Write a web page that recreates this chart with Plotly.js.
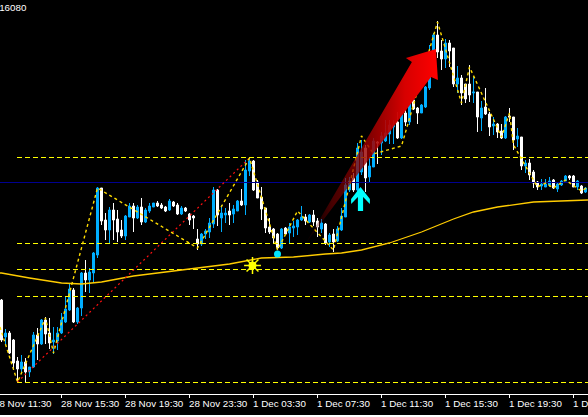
<!DOCTYPE html>
<html><head><meta charset="utf-8">
<script src="https://cdn.plot.ly/plotly-3.0.1.min.js"></script>
<style>html,body{margin:0;padding:0;background:#fff;overflow:hidden}#c{width:588px;height:415px}</style>
</head><body><div id="c"></div>
<script>
// Prices are in chart points above the bottom of the price window; bars are 15-minute bars.
const open = [94,57,61,54,33,25,32,22,27,59,50,74,61,52,53,61,72,84,104,72,86,121,114,121,139,206,174,164,184,175,164,158,177,188,176,187,172,183,187,191,189,187,184,192,189,180,186,180,178,155,150,160,162,170,204,176,179,183,180,183,193,189,223,233,212,197,186,167,165,160,146,166,161,166,167,174,177,172,179,173,165,170,152,160,153,164,177,204,216,204,222,246,217,227,252,251,253,260,267,272,256,281,272,294,286,281,287,306,342,359,343,335,351,346,310,316,310,310,301,302,276,287,280,268,270,263,256,278,277,255,257,228,231,222,212,208,207,209,214,205,209,213,218,218,207,208,202];
const high = [95,65,63,55,37,39,36,27,62,66,75,77,76,67,67,81,98,111,106,87,122,134,126,142,207,206,181,187,191,184,174,179,191,191,189,196,186,191,191,193,191,188,195,193,191,188,187,181,179,165,161,165,176,207,205,189,186,191,189,194,205,234,237,234,214,207,186,176,166,161,166,167,171,173,175,188,180,180,184,176,175,171,161,165,168,186,216,217,221,251,254,249,237,256,253,262,274,274,274,282,282,287,296,296,287,290,308,349,361,373,354,355,354,346,328,319,310,329,317,302,293,306,282,277,271,270,278,286,277,266,257,234,235,224,213,215,215,217,215,211,214,219,219,219,214,209,207];
const low = [52,49,40,24,12,22,12,17,26,34,49,50,45,40,44,60,71,83,71,70,78,102,101,111,136,169,154,151,154,152,156,154,177,162,175,169,171,181,187,187,185,182,183,187,179,179,182,169,165,144,148,155,156,166,168,162,171,169,171,183,188,179,218,203,196,174,161,160,151,144,145,159,151,157,159,173,169,171,168,157,161,149,147,142,152,163,177,202,202,202,219,202,212,227,230,239,252,250,250,255,255,268,269,284,270,281,286,304,341,336,324,326,327,307,301,289,291,292,291,262,263,279,258,259,256,255,255,272,244,247,224,221,214,206,204,204,207,207,205,202,208,213,214,207,204,200,201];
const close = [54,61,41,31,25,32,22,27,59,50,74,60,51,54,61,74,85,105,72,86,121,114,122,141,206,173,164,184,174,162,158,178,188,176,187,172,184,188,191,188,186,183,193,188,180,186,183,174,176,150,160,163,171,204,179,181,181,179,185,193,189,224,233,204,196,185,166,162,156,146,165,160,167,168,174,177,173,179,172,167,171,151,159,152,165,178,209,213,204,246,242,216,228,253,251,258,261,269,269,256,281,272,294,285,281,289,307,342,359,342,335,351,343,310,316,301,295,299,302,277,286,280,267,270,262,256,277,277,254,258,228,231,219,211,207,210,210,213,206,210,213,218,216,207,213,201,206];

const maBars = [-0.375,0,7,15,20,25,33,41,49,57,65,73,81,85,90,97,105,113,118,124,133,143,146.625];
const maValues = [121,121,116,111,110,112,118,122,126,130,136,137,140,141,144,151,162,175,182,187,192,193.5,194];

const zigzagBars = [-0.375,4,11,13,24,49,62,69,74,83,90,93,100,109,115,117,125,127,128,134,136,138,141,145,146.625];
const zigzagValues = [67,12,76,41,206,146,236,144,183,144,258,240,248,372,291,327,257,281,249,207,211,206,214,203,207];

const trendBars = [4,62];
const trendValues = [12,236];

const levelValues = [236.5,150.5,124.5,97.5,11.5];
const levelBars = [3.875,146.625];
const pivotValue = 211.5;

const bigArrowBars = [76.1,102.6,101.1,108.6,109.1,107.4,76.1];
const bigArrowValues = [151,332,336,345,314,317,151];
const upArrowBars = [89.75,92.1,92.1,90.4,90.4,89.1,89.1,87.4,87.4,89.75];
const upArrowValues = [207,195,190,197,183,183,197,190,195,207];
const dotBar = [69], dotValue = [140];
const starBar = [62.75], starValue = [128.5];

const tickBars = [15,31,47,63,79,95,111,127,143];
const tickLabels = ['28 Nov 15:30','28 Nov 19:30','28 Nov 23:30','1 Dec 03:30','1 Dec 07:30','1 Dec 11:30','1 Dec 15:30','1 Dec 19:30','1 Dec 23:30'];
const firstLabel = '28 Nov 11:30';
const priceLabel = '1.16080';

const bars = open.map((_, i) => i);
const FONT = '"Liberation Sans", Arial, sans-serif';

const traces = [];
levelValues.forEach(v => traces.push({type:'scatter',mode:'lines',x:levelBars,y:[v,v],
  line:{color:'#FFFF00',width:1,dash:'5px,3px'},hoverinfo:'skip'}));
traces.push({type:'scatter',mode:'lines',x:[-0.375,146.625],y:[pivotValue,pivotValue],
  line:{color:'#000090',width:1},hoverinfo:'skip'});
traces.push({type:'candlestick',x:bars,open:open,high:high,low:low,close:close,whiskerwidth:0,
  increasing:{line:{color:'#00AEFF',width:1},fillcolor:'#00AEFF'},
  decreasing:{line:{color:'#FFFFFF',width:1},fillcolor:'#FFFFFF'},hoverinfo:'skip'});
traces.push({type:'scatter',mode:'lines',x:maBars,y:maValues,line:{color:'#FFCC00',width:1.3},hoverinfo:'skip'});
traces.push({type:'scatter',mode:'lines',x:trendBars,y:trendValues,line:{color:'#FF1010',width:1.2,dash:'2px,3px'},hoverinfo:'skip'});
traces.push({type:'scatter',mode:'lines',x:zigzagBars,y:zigzagValues,line:{color:'#FFDC00',width:1.4,dash:'3px,3px'},hoverinfo:'skip'});
traces.push({type:'scatter',mode:'lines',x:bigArrowBars,y:bigArrowValues,fill:'toself',line:{width:0},
  fillgradient:{type:'horizontal',colorscale:[[0,'rgba(80,0,0,0.1)'],[0.2,'rgba(120,0,0,0.6)'],[0.5,'rgba(160,0,0,0.85)'],[0.75,'rgb(215,0,0)'],[1,'rgb(255,0,0)']]},hoverinfo:'skip'});
traces.push({type:'scatter',mode:'lines',x:upArrowBars,y:upArrowValues,fill:'toself',fillcolor:'#00FFFF',line:{width:0},hoverinfo:'skip'});
traces.push({type:'scatter',mode:'markers',x:dotBar,y:dotValue,marker:{symbol:'circle',size:7,color:'#00E5FF'},hoverinfo:'skip'});
traces.push({type:'scatter',mode:'markers',x:starBar,y:starValue,marker:{symbol:'circle',size:8,color:'#FFFF00'},hoverinfo:'skip'});
traces.push({type:'scatter',mode:'markers',x:starBar,y:starValue,marker:{symbol:'asterisk-open',size:14,color:'#FFFF00',line:{color:'#FFFF00',width:1.5}},hoverinfo:'skip'});

const annotations = tickBars.map((b,i) => ({xref:'x',yref:'paper',x:b-0.5,y:0,yanchor:'top',yshift:-3,xanchor:'left',
  text:tickLabels[i],showarrow:false,borderpad:0,font:{family:FONT,size:9.8,color:'#fff'}}));
annotations.push({xref:'x',yref:'paper',x:12.9,y:0,yanchor:'top',yshift:-3,xanchor:'right',text:firstLabel,showarrow:false,borderpad:0,font:{family:FONT,size:9.8,color:'#fff'}});
annotations.push({xref:'paper',yref:'paper',x:0.0475,y:1,yanchor:'top',yshift:-1,xanchor:'right',text:priceLabel,showarrow:false,borderpad:0,font:{family:FONT,size:9.8,color:'#fff'}});

Plotly.newPlot('c',traces,{
  width:588,height:415,showlegend:false,
  paper_bgcolor:'#000',plot_bgcolor:'#000',
  margin:{l:0,r:0,t:0,b:21,pad:0},
  boxgap:0.5,boxgroupgap:0,
  xaxis:{type:'linear',range:[-0.375,146.625],rangeslider:{visible:false},showgrid:false,zeroline:false,
    showline:true,linecolor:'#fff',linewidth:1,tickmode:'array',tickvals:tickBars,ticktext:tickBars.map(()=>''),
    ticks:'outside',ticklen:3,tickwidth:1,tickcolor:'#fff',showticklabels:false},
  yaxis:{range:[0,394],visible:false,showgrid:false,zeroline:false},
  annotations:annotations
},{displayModeBar:false,staticPlot:true});
</script></body></html>
